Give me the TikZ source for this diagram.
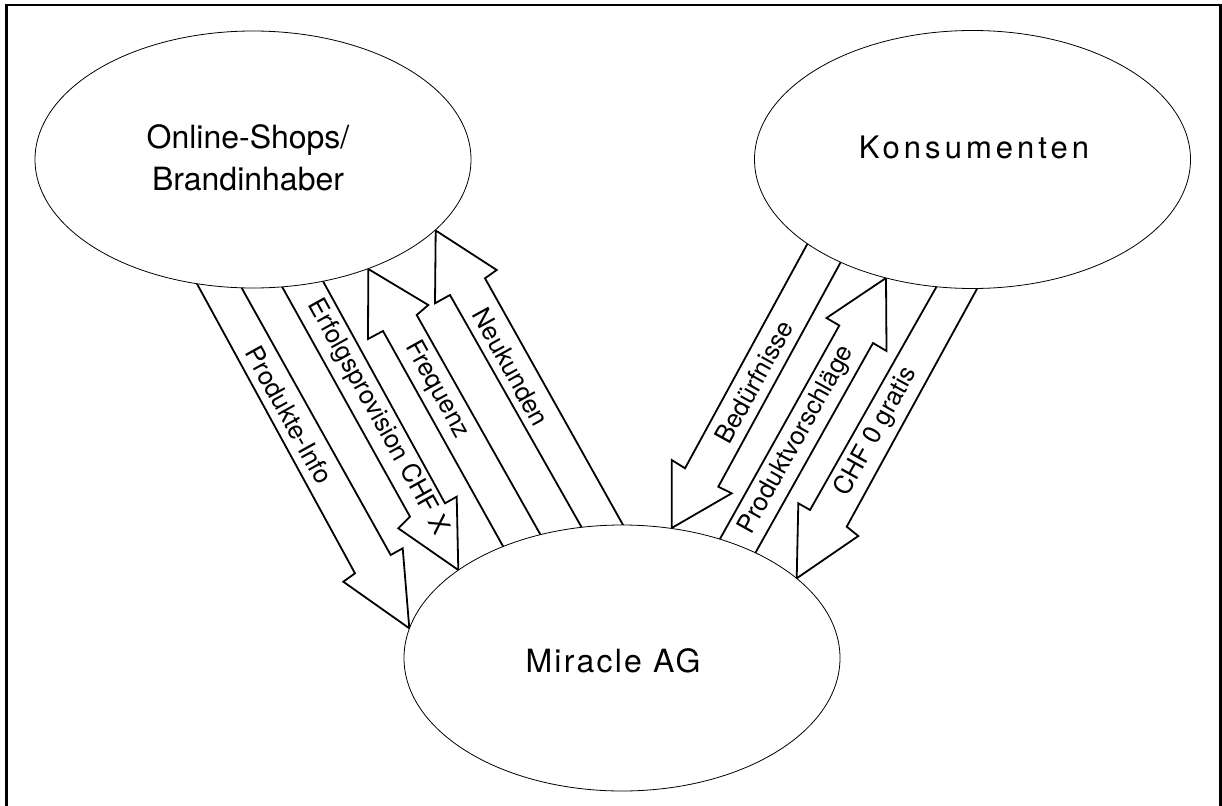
\documentclass[tikz,border=0pt]{standalone}
\usepackage{fontspec}
\setmainfont{TeX Gyre Heros}
\usetikzlibrary{shapes.geometric}
\begin{document}
\begin{tikzpicture}[x=1pt,y=-1pt,
  party/.style={draw, ellipse, fill=white, line width=0.8pt, inner sep=0pt},
  flow/.style={draw, fill=white, line width=1.8pt, line join=miter, miter limit=20},
  flowlabel/.style={font=\fontsize{25.5}{29}\selectfont, inner sep=0pt},
  bigtext/.style={font=\fontsize{32}{38}\selectfont, inner sep=0pt, anchor=base}
]
\useasboundingbox (0,0) rectangle (1222,805);
\clip (0,0) rectangle (1222,805);

% frame (open at the bottom edge)
\draw[line width=2.8pt] (6.7,815) -- (6.7,5) -- (1220.3,5) -- (1220.3,815);

% block arrows between Online-Shops and Miracle AG
\draw[flow] (190,271) -- (355,573.3) -- (343.3,581.7) -- (409.3,628.3) -- (402.7,548.3) -- (390.7,555) -- (235,276) -- cycle;
\draw[flow] (275,274) -- (410,516.7) -- (398.3,528.3) -- (458.3,570) -- (456.7,496.7) -- (445,503.3) -- (316.3,269) -- cycle;
\draw[flow] (510.3,559.3) -- (383,331) -- (368,339) -- (368.3,269) -- (428.3,305) -- (416.7,315) -- (548.7,549.3) -- cycle;
\draw[flow] (590.3,542.6) -- (450,295) -- (435,303.3) -- (435.7,230.5) -- (496.7,270) -- (485,278.3) -- (632,541) -- cycle;

% block arrows between Konsumenten and Miracle AG
\draw[flow] (813.7,232.3) -- (685,468.3) -- (671.7,460) -- (671.7,528) -- (731.7,493.3) -- (718.3,486.7) -- (847,250.6) -- cycle;
\draw[flow] (711.3,554.4) -- (839.3,325.5) -- (826.5,318) -- (886,278) -- (886.5,351) -- (873,343) -- (748,566) -- cycle;
\draw[flow] (943.7,274) -- (810,510) -- (798.3,503.3) -- (796.7,578.3) -- (858.3,536) -- (846.7,526.7) -- (983.7,276.6) -- cycle;

% the three parties
\node[party, minimum width=436pt, minimum height=257pt] (shops) at (253,159.5) {};
\node[party, minimum width=436pt, minimum height=258pt] (kons) at (972.5,159.5) {};
\node[party, minimum width=436pt, minimum height=266pt] (mir) at (622,658) {};

\node[bigtext] (shopsA) at (248,148.3) {Online-Shops/};
\node[bigtext] (shopsB) at (248,190) {Brandinhaber};
\node[bigtext, font=\fontsize{31}{36}\selectfont\addfontfeature{LetterSpace=13}] (konsT) at (974,158.3) {Konsumenten};
\node[bigtext, font=\fontsize{32}{38}\selectfont\addfontfeature{LetterSpace=7}] (mirT) at (613,672.8) {Miracle AG};

% arrow labels
\node[flowlabel, rotate=-61] (lP) at (289,415) {Produkte-Info};
\node[flowlabel, rotate=-61] (lE) at (378,417) {Erfolgsprovision CHF X};
\node[flowlabel, rotate=-61] (lF) at (437,390) {Frequenz};
\node[flowlabel, rotate=-61] (lN) at (511,367) {Neukunden};
\node[flowlabel, rotate=61] (lB) at (754,382) {Bedürfnisse};
\node[flowlabel, rotate=61] (lPV) at (797,440) {Produktvorschläge};
\node[flowlabel, rotate=61] (lC) at (876,432) {CHF 0 gratis};
\end{tikzpicture}
\end{document}
